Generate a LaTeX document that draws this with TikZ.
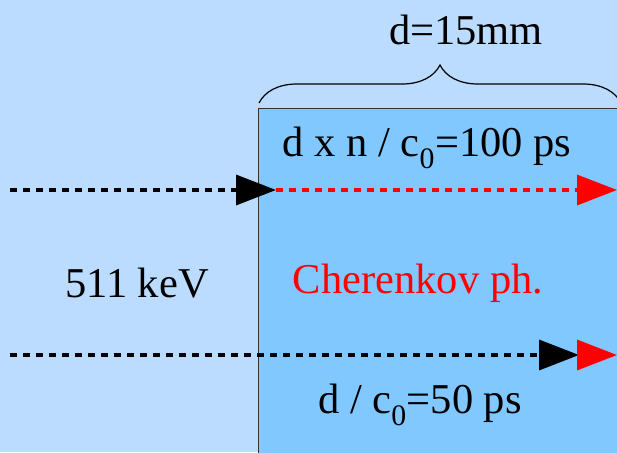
\documentclass[tikz,border=0pt]{standalone}
\usepackage{fontspec}
\setmainfont{Liberation Serif}
\usetikzlibrary{arrows.meta,decorations.pathreplacing}

\definecolor{bgblue}{RGB}{187,220,255}
\definecolor{slabblue}{RGB}{128,200,255}
\definecolor{phred}{RGB}{255,0,0}

\tikzset{
  lbl/.style={font=\fontsize{42.5}{50}\selectfont, inner sep=0pt},
  ray/.style={line width=3.5pt, dash pattern=on 7pt off 6pt},
  tip/.style={-{Triangle[length=40pt,width=30pt]}},
}

\begin{document}
\begin{tikzpicture}[x=1pt,y=-1pt]
  \useasboundingbox (0,0) rectangle (617,452);
  \fill[bgblue] (0,0) rectangle (617,452);

  % slab
  \fill[slabblue] (258,108) rectangle (640,460);
  \draw[black!80, line width=1pt] (258,460) -- (258,108) -- (640,108);

  % brace over the slab
  \coordinate (bl) at (259,103);
  \coordinate (br) at (621,103);
  \draw[line width=1.2pt, decorate, decoration={brace, amplitude=38pt}] (bl) -- (br);
  \node[lbl] (thick) at (466,30) {d=15mm};

  % labels
  \node[lbl] (tslow) at (427,148) {d x n / c\textsubscript{0}=100 ps};
  \node[lbl] (energy) at (137,283) {511 keV};
  \node[lbl, text=phred] (cher) at (418,283) {Cherenkov ph.};
  \node[lbl] (tfast) at (420,405) {d / c\textsubscript{0}=50 ps};

  % upper ray
  \coordinate (ua) at (10,190);
  \coordinate (ub) at (276,190);
  \coordinate (uc) at (617,190);
  \draw[ray, tip, phred] (ub) -- (uc);
  \draw[ray, tip] (ua) -- (ub);

  % lower ray
  \coordinate (la) at (10,355);
  \coordinate (lb) at (579,355);
  \coordinate (lc) at (617,355);
  \draw[ray, tip] (la) -- (lb);
  \draw[ray, tip, phred] (lb) -- (lc);
\end{tikzpicture}
\end{document}
